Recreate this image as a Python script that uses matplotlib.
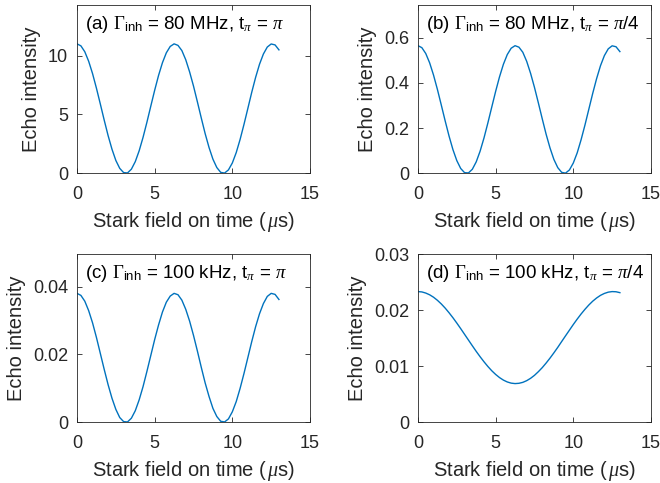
import matplotlib
matplotlib.use("Agg")
import matplotlib.pyplot as plt
from matplotlib.ticker import FixedLocator, FuncFormatter

plt.rcParams['font.family'] = ['Liberation Sans', 'DejaVu Sans']
plt.rcParams['mathtext.fontset'] = 'custom'
plt.rcParams['mathtext.rm'] = 'Liberation Serif'
plt.rcParams['mathtext.it'] = 'Liberation Serif:italic'
plt.rcParams['mathtext.sf'] = 'Liberation Sans'

# Stark field on time (us)
t = [0.0, 0.25, 0.5, 0.75, 1.0, 1.25, 1.5, 1.75, 2.0, 2.25, 2.5, 2.75, 3.0, 3.25,
     3.5, 3.75, 4.0, 4.25, 4.5, 4.75, 5.0, 5.25, 5.5, 5.75, 6.0, 6.25, 6.5, 6.75,
     7.0, 7.25, 7.5, 7.75, 8.0, 8.25, 8.5, 8.75, 9.0, 9.25, 9.5, 9.75, 10.0, 10.25,
     10.5, 10.75, 11.0, 11.25, 11.5, 11.75, 12.0, 12.25, 12.5, 12.75, 13.0]

echo_a = [11.00, 10.83, 10.33, 9.52, 8.47, 7.23, 5.89, 4.52, 3.21, 2.05, 1.09, 0.42,
          0.06, 0.03, 0.35, 0.99, 1.91, 3.05, 4.34, 5.71, 7.06, 8.32, 9.40, 10.24,
          10.78, 11.00, 10.87, 10.43, 9.65, 8.61, 7.41, 6.07, 4.70, 3.37, 2.19, 1.20,
          0.49, 0.08, 0.02, 0.29, 0.88, 1.76, 2.88, 4.16, 5.52, 6.89, 8.16, 9.27,
          10.14, 10.73, 10.99, 10.91, 10.49]

echo_b = [0.5650, 0.5562, 0.5304, 0.4892, 0.4351, 0.3716, 0.3025, 0.2322, 0.1650,
          0.1050, 0.0562, 0.0214, 0.0028, 0.0017, 0.0179, 0.0507, 0.0979, 0.1565,
          0.2230, 0.2931, 0.3626, 0.4272, 0.4827, 0.5258, 0.5538, 0.5650, 0.5584,
          0.5358, 0.4955, 0.4425, 0.3804, 0.3119, 0.2414, 0.1730, 0.1124, 0.0615,
          0.0251, 0.0043, 0.0008, 0.0148, 0.0455, 0.0904, 0.1482, 0.2135, 0.2837,
          0.3538, 0.4190, 0.4762, 0.5209, 0.5510, 0.5644, 0.5603, 0.5388]

echo_c = [0.0380, 0.0374, 0.0357, 0.0329, 0.0293, 0.0250, 0.0203, 0.0156, 0.0111,
          0.0071, 0.0038, 0.0014, 0.0002, 0.0001, 0.0012, 0.0034, 0.0066, 0.0105,
          0.0150, 0.0197, 0.0244, 0.0287, 0.0325, 0.0354, 0.0372, 0.0380, 0.0376,
          0.0360, 0.0333, 0.0298, 0.0256, 0.0210, 0.0162, 0.0116, 0.0076, 0.0041,
          0.0017, 0.0003, 0.0001, 0.0010, 0.0031, 0.0061, 0.0100, 0.0144, 0.0191,
          0.0238, 0.0282, 0.0320, 0.0350, 0.0371, 0.0380, 0.0377, 0.0362]

echo_d = [0.02330, 0.02324, 0.02304, 0.02273, 0.02230, 0.02175, 0.02110, 0.02036,
          0.01953, 0.01864, 0.01769, 0.01670, 0.01568, 0.01466, 0.01364, 0.01264,
          0.01169, 0.01079, 0.00995, 0.00919, 0.00853, 0.00797, 0.00752, 0.00719,
          0.00698, 0.00690, 0.00695, 0.00712, 0.00742, 0.00784, 0.00837, 0.00902,
          0.00974, 0.01056, 0.01144, 0.01238, 0.01336, 0.01439, 0.01541, 0.01642,
          0.01743, 0.01839, 0.01930, 0.02014, 0.02091, 0.02159, 0.02216, 0.02263,
          0.02297, 0.02320, 0.02330, 0.02327, 0.02311]

titles = [r"(a) $\Gamma_{\mathsf{inh}}$ = 80 MHz, t$_{\pi}$ = $\pi$",
          r"(b) $\Gamma_{\mathsf{inh}}$ = 80 MHz, t$_{\pi}$ = $\pi$/4",
          r"(c) $\Gamma_{\mathsf{inh}}$ = 100 kHz, t$_{\pi}$ = $\pi$",
          r"(d) $\Gamma_{\mathsf{inh}}$ = 100 kHz, t$_{\pi}$ = $\pi$/4"]
yticks = [[0, 5, 10], [0, 0.2, 0.4, 0.6], [0, 0.02, 0.04], [0, 0.01, 0.02, 0.03]]
ylims = [14.3, 0.745, 0.0496, 0.03]
xticks = [0, 5, 10, 15]
series = [echo_a, echo_b, echo_c, echo_d]

fig = plt.figure(figsize=(6.6, 4.83), dpi=100)
W, H = 0.353, 0.3484
positions = [(0.1167, 0.6412), (0.6333, 0.6412), (0.1167, 0.1257), (0.6333, 0.1257)]
axcol = '#262626'

for i in range(4):
    ax = fig.add_axes([positions[i][0], positions[i][1], W, H])
    ax.plot(t, series[i], color='#0072BD', lw=1.0)
    ax.set_xlim(0, 15)
    ax.set_ylim(0, ylims[i])
    ax.xaxis.set_major_locator(FixedLocator(xticks))
    ax.yaxis.set_major_locator(FixedLocator(yticks[i]))
    ax.yaxis.set_major_formatter(FuncFormatter(lambda v, p: f"{v:g}"))
    ax.xaxis.set_major_formatter(FuncFormatter(lambda v, p: f"{v:g}"))
    ax.tick_params(direction='in', top=True, right=True, length=3.5, width=0.6,
                   colors=axcol, labelsize=13, labelcolor=axcol)
    ax.tick_params(axis='x', pad=9)
    ax.tick_params(axis='y', pad=6.5)
    for s in ax.spines.values():
        s.set_color(axcol)
        s.set_linewidth(0.6)
    ax.set_xlabel(r"Stark field on time ($\,\mu$s)", fontsize=14.5, color=axcol, labelpad=5.5)
    ax.set_ylabel("Echo intensity", fontsize=14.5, color=axcol, labelpad=5)
    ax.text(0.035, 0.945, titles[i], transform=ax.transAxes, ha='left', va='top',
            fontsize=13.5, color='black')

fig.savefig("out.png", dpi=100)
